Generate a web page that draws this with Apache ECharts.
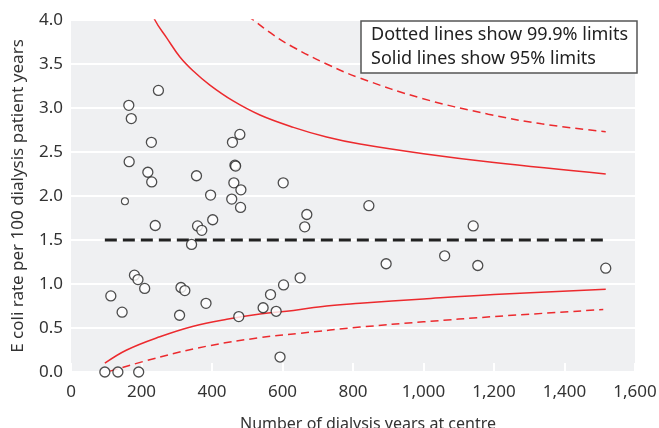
<!DOCTYPE html>
<html>
<head>
<meta charset="utf-8">
<script src="https://cdn.jsdelivr.net/npm/echarts@6/dist/echarts.min.js"></script>
<style>
html,body{margin:0;padding:0;background:#fff;}
#c{width:659px;height:428px;}
</style>
</head>
<body>
<div id="c"></div>
<script>
// Centre data: [dialysis years, E coli rate per 100 patient years]
var centres = [
  [248,3.20],[164,3.03],[171,2.88],[228,2.61],[479,2.70],[458,2.61],[165,2.39],
  [465,2.35],[467,2.34],[218,2.27],[229,2.16],[356,2.23],[462,2.15],[482,2.07],
  [602,2.15],[396,2.01],[456,1.965],[481,1.87],[239,1.665],[402,1.73],[359,1.66],
  [371,1.61],[342,1.45],[180,1.10],[190,1.05],[209,0.95],[113,0.865],[145,0.68],
  [312,0.96],[323,0.925],[383,0.78],[308,0.645],[476,0.63],[545,0.73],[566,0.88],
  [603,0.99],[582,0.69],[650,1.07],[593,0.17],[96,0.0],[133,0.0],[192,0.0],
  [669,1.79],[663,1.65],[845,1.89],[1141,1.66],[894,1.23],[1060,1.32],[1154,1.21],
  [1517,1.18]
];
var smallCentres = [[153,1.94]];
var meanLine = [[96,1.5],[1517,1.5]];
var upper95 = [[225,4.16],[238,4.0],[271,3.80],[309,3.58],[347,3.42],[394,3.26],[460,3.08],[536,2.92],[631,2.78],[725,2.67],[820,2.59],[1000,2.48],[1200,2.38],[1517,2.25]];
var upper999 = [[500,4.05],[517,4.0],[574,3.83],[631,3.69],[725,3.50],[820,3.34],[995,3.11],[1184,2.93],[1335,2.82],[1517,2.73]];
var lower95 = [[96,0.10],[158,0.25],[252,0.40],[347,0.52],[442,0.60],[536,0.66],[631,0.70],[725,0.75],[820,0.78],[1000,0.83],[1200,0.88],[1517,0.94]];
var lower999 = [[111,0.01],[252,0.17],[394,0.30],[536,0.39],[650,0.44],[820,0.51],[1000,0.57],[1200,0.63],[1510,0.71]];
var legendLines = ['Dotted lines show 99.9% limits','Solid lines show 95% limits'];
var xName = 'Number of dialysis years at centre';
var yName = 'E coli rate per 100 dialysis patient years';

var FONT = '"Noto Sans", "Open Sans", sans-serif';
var RED = '#ec2a2e';
var chart = echarts.init(document.getElementById('c'));
chart.setOption({
  animation:false,
  backgroundColor:'#fff',
  title:{
    text: legendLines.join('\n'),
    left:361, top:21,
    backgroundColor:'#fff',
    borderColor:'#555', borderWidth:1.5,
    padding:[2,9,2,10],
    textStyle:{fontFamily:FONT,fontSize:18,fontWeight:'normal',color:'#222',lineHeight:24}
  },
  grid:{left:71,right:24,top:20,bottom:56,show:true,backgroundColor:'#eff0f2',borderWidth:0,
    containLabel:false,outerBoundsMode:'none'},
  xAxis:{
    type:'value',min:0,max:1600,interval:200,
    name:xName,nameLocation:'middle',nameGap:44,
    nameTextStyle:{fontFamily:FONT,fontSize:16,color:'#333',padding:[0,0,0,30]},
    axisLine:{show:false},
    axisTick:{show:true,inside:true,length:9,lineStyle:{color:'#fff',width:2}},
    splitLine:{show:false},
    axisLabel:{fontFamily:FONT,fontSize:17,color:'#333',margin:12,
      formatter:function(v){return v.toString().replace(/\B(?=(\d{3})+(?!\d))/g, ',');}}
  },
  yAxis:{
    type:'value',min:0,max:4,interval:0.5,
    name:yName,nameLocation:'middle',nameGap:44,
    nameTextStyle:{fontFamily:FONT,fontSize:17,color:'#333'},
    axisLine:{show:false},axisTick:{show:false},
    splitLine:{show:true,lineStyle:{color:'#fff',width:2}},
    axisLabel:{fontFamily:FONT,fontSize:17,color:'#333',margin:8,
      formatter:function(v){return v.toFixed(1);}}
  },
  series:[
    {type:'line',data:upper95,smooth:0.4,showSymbol:false,clip:true,
      lineStyle:{color:RED,width:1.5},z:2},
    {type:'line',data:lower95,smooth:0.4,showSymbol:false,clip:true,
      lineStyle:{color:RED,width:1.5},z:2},
    {type:'line',data:upper999,smooth:0.4,showSymbol:false,clip:true,
      lineStyle:{color:RED,width:1.5,type:[8,5]},z:2},
    {type:'line',data:lower999,smooth:0.4,showSymbol:false,clip:true,
      lineStyle:{color:RED,width:1.5,type:[8,5]},z:2},
    {type:'line',data:meanLine,showSymbol:false,
      lineStyle:{color:'#222',width:3,type:[12,6]},z:3},
    {type:'scatter',data:centres,symbol:'circle',symbolSize:10,clip:false,
      itemStyle:{color:'#fff',borderColor:'#222',borderWidth:1.3},z:5},
    {type:'scatter',data:smallCentres,symbol:'circle',symbolSize:7,clip:false,
      itemStyle:{color:'#fff',borderColor:'#222',borderWidth:1.1},z:5}
  ]
});
</script>
</body>
</html>
